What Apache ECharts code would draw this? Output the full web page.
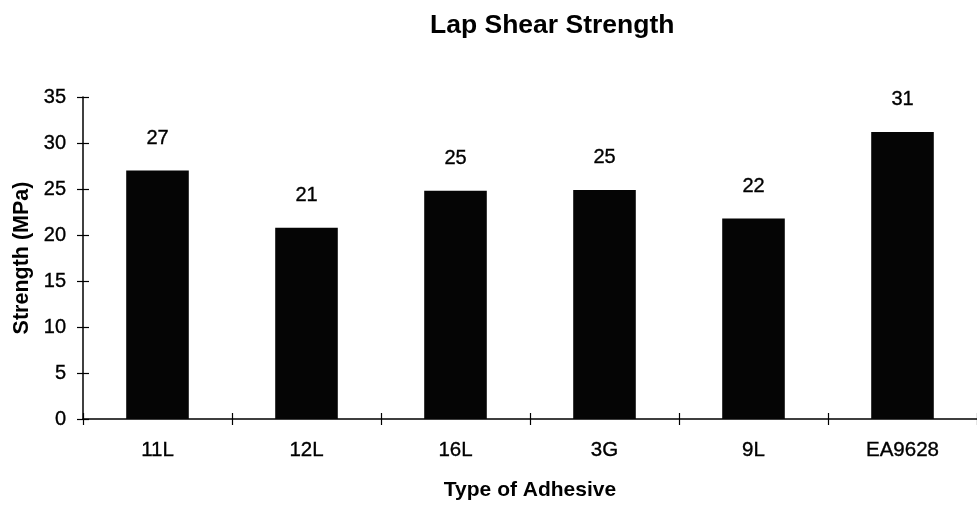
<!DOCTYPE html>
<html>
<head>
<meta charset="utf-8">
<script src="https://cdn.jsdelivr.net/npm/echarts@6/dist/echarts.min.js"></script>
<style>
  html, body { margin: 0; padding: 0; background: #fff; }
  #chart { width: 977px; height: 506px; }
</style>
</head>
<body>
<div id="chart"></div>
<script>
const categories = ['11L', '12L', '16L', '3G', '9L', 'EA9628'];
const strengthValues = [27.0, 20.8, 24.8, 24.9, 21.8, 31.2];
const yTicks = [0, 5, 10, 15, 20, 25, 30, 35];

const FONT = '"Liberation Sans", Arial, Helvetica, sans-serif';
const chart = echarts.init(document.getElementById('chart'), null, { renderer: 'canvas' });

const heavy = { textBorderColor: '#000', textBorderWidth: 0.35 };

const yBase = {
  type: 'value',
  min: yTicks[0],
  max: yTicks[yTicks.length - 1],
  interval: yTicks[1] - yTicks[0],
  position: 'left',
  splitLine: { show: false },
  axisLine: { show: true, lineStyle: { color: '#000', width: 1.5 } }
};

const option = {
  backgroundColor: '#fff',
  animation: false,
  title: {
    text: 'Lap Shear Strength',
    left: 425,
    top: 7,
    textStyle: { fontFamily: FONT, fontSize: 26.5, fontWeight: 'bold', color: '#000' }
  },
  grid: { left: 83, top: 97, width: 903, bottom: 86, containLabel: false },
  xAxis: [
    {
      type: 'category',
      data: categories,
      boundaryGap: true,
      name: 'Type of Adhesive',
      nameLocation: 'middle',
      nameGap: 61,
      nameTextStyle: { fontFamily: FONT, fontSize: 21, fontWeight: 'bold', color: '#000' },
      axisLine: { show: true, lineStyle: { color: '#000', width: 1.5 } },
      axisTick: { show: true, inside: false, length: 6, alignWithLabel: false, lineStyle: { color: '#000', width: 1.2 } },
      axisLabel: Object.assign({ fontFamily: FONT, fontSize: 20.5, color: '#000', margin: 21 }, heavy)
    },
    {
      type: 'category',
      data: categories,
      position: 'bottom',
      boundaryGap: true,
      axisLine: { show: false },
      axisTick: { show: true, inside: true, length: 6, lineStyle: { color: '#000', width: 1.2 } },
      axisLabel: { show: false }
    }
  ],
  yAxis: [
    Object.assign({}, yBase, {
      name: 'Strength (MPa)',
      nameLocation: 'middle',
      nameGap: 50,
      nameTextStyle: { fontFamily: FONT, fontSize: 21.5, fontWeight: 'bold', color: '#000' },
      axisTick: { show: true, inside: false, length: 6, lineStyle: { color: '#000', width: 1.2 } },
      axisLabel: Object.assign({ fontFamily: FONT, fontSize: 20, color: '#000', margin: 17 }, heavy)
    }),
    Object.assign({}, yBase, {
      axisLine: { show: false },
      axisTick: { show: true, inside: true, length: 6, lineStyle: { color: '#000', width: 1.2 } },
      axisLabel: { show: false }
    })
  ],
  series: [
    {
      type: 'bar',
      xAxisIndex: 0,
      yAxisIndex: 0,
      data: strengthValues,
      barWidth: '42%',
      itemStyle: { color: '#050505' },
      label: Object.assign({
        show: true,
        position: 'top',
        distance: 22,
        fontFamily: FONT,
        fontSize: 20,
        color: '#000',
        formatter: p => Math.round(p.value)
      }, heavy)
    }
  ]
};
chart.setOption(option);
</script>
</body>
</html>
